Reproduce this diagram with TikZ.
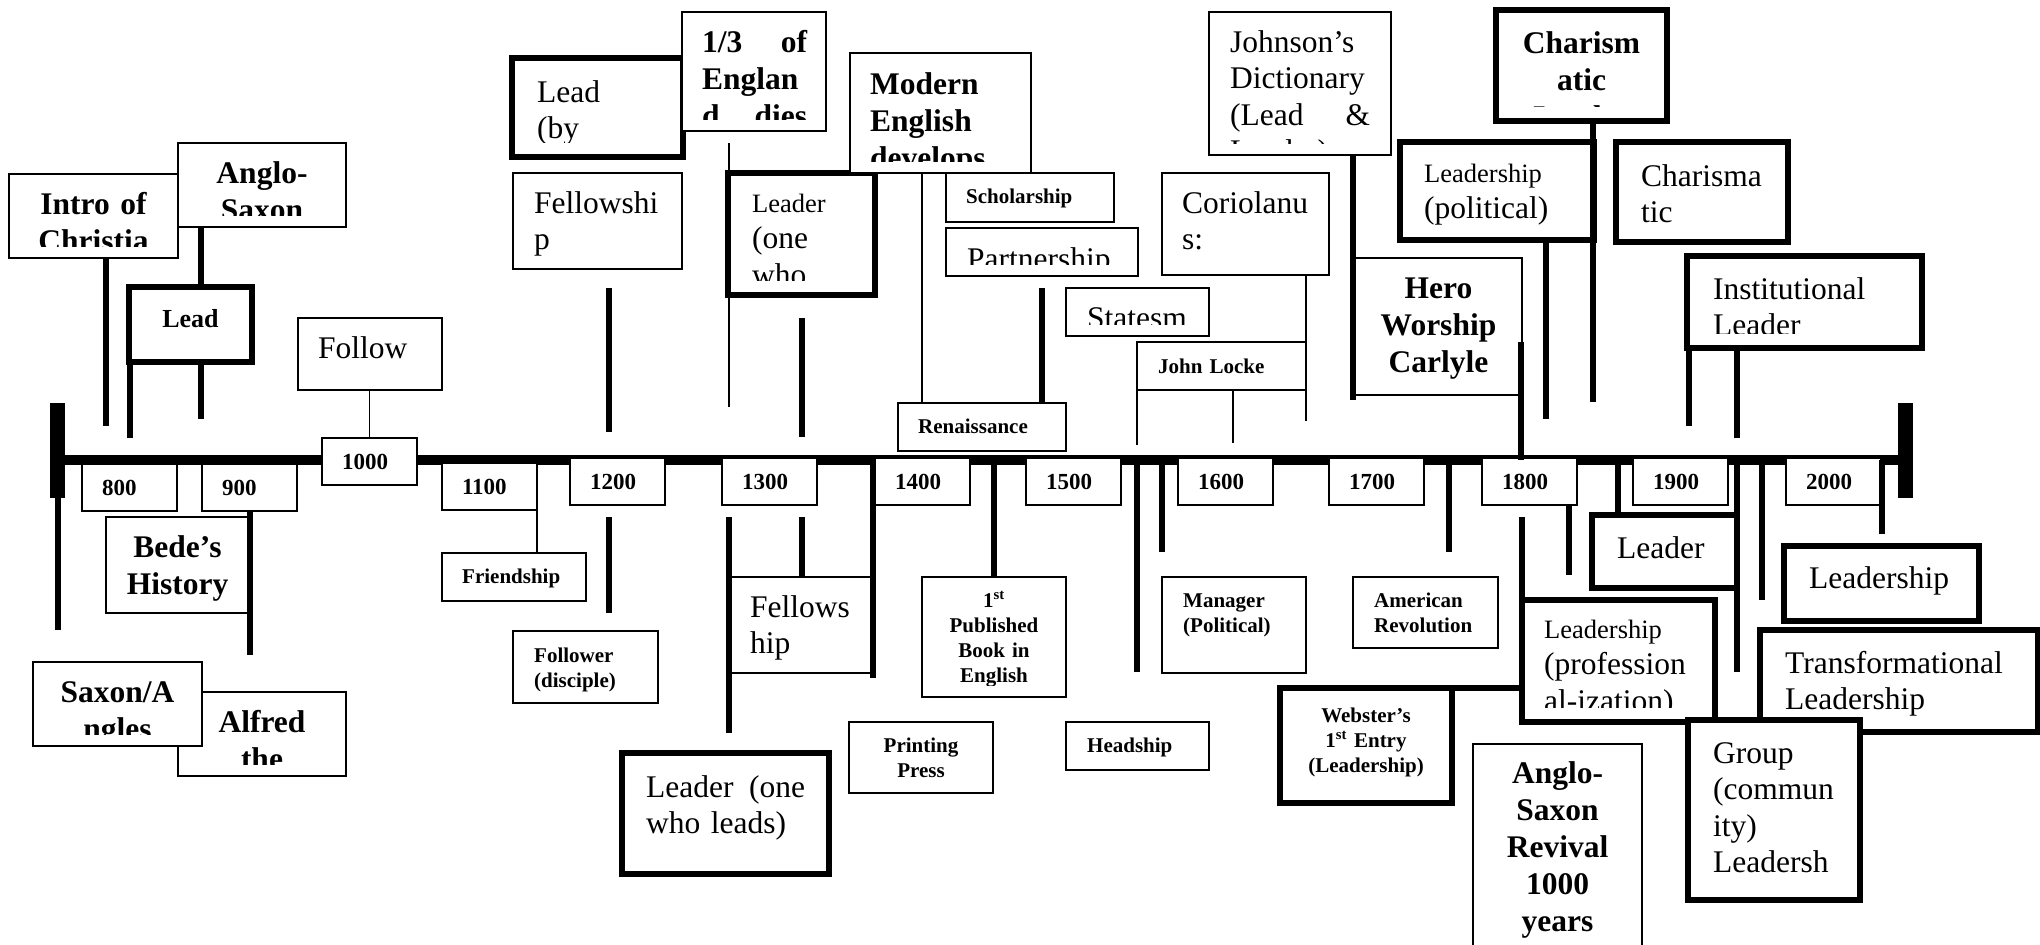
\documentclass[tikz,border=0pt]{standalone}
\usepackage{fontspec}
\setmainfont{Liberation Serif}
\usepackage{tikz}

\tikzset{
  thinbox/.style={draw, fill=white, line width=1.8pt, anchor=north west, inner sep=0pt, outer sep=0pt},
  thickbox/.style={thinbox, line width=5.5pt},
  yearbox/.style={thinbox, inner xsep=20pt, text width=55pt, minimum height=47pt, align=left, font=\fontsize{23}{26}\selectfont\bfseries},
  big/.style={font=\fontsize{31.5}{36.5}\selectfont},
  bigb/.style={font=\fontsize{31.5}{37}\selectfont\bfseries},
  smb/.style={font=\fontsize{21}{25}\selectfont\bfseries},
  lft/.style={anchor=base west, align=left, inner sep=0pt},
  ctr/.style={anchor=base, align=center, inner sep=0pt},
  conn/.style={line width=5.5pt},
  thinconn/.style={line width=1.8pt},
  mainline/.style={line width=10pt},
  endbar/.style={line width=15pt}
}

\def\thickname{thickbox}
\newcommand{\tbox}[7][thinbox]{%
  \node[#1, minimum width=#4pt, minimum height=#5pt] (#2) at (#3) {};
  \def\boxkind{#1}%
  \ifx\boxkind\thickname\def\cliplift{14.5pt}\else\def\cliplift{12pt}\fi
  \begin{scope}
    \clip (#2.north west) rectangle ([yshift=\cliplift]#2.south east);
    \node[#6] {#7};
  \end{scope}}

\begin{document}
\begin{tikzpicture}[x=1pt,y=-1pt]
  \useasboundingbox (0,0) rectangle (2040,945);

  \coordinate (m1) at (57,460);
  \coordinate (m2) at (1905,460);
  \draw[mainline] (m1) -- (m2);
  \draw[endbar] ([yshift=57pt]m1) -- ([yshift=-38pt]m1);
  \draw[endbar] ([yshift=57pt]m2) -- ([yshift=-38pt]m2);

  \foreach \yr/\x/\y in {800/82/464, 900/202/464, 1000/322/438, 1100/442/463,
      1200/570/458, 1300/722/458, 1400/875/458, 1500/1026/458, 1600/1178/458,
      1700/1329/458, 1800/1482/458, 1900/1633/458, 2000/1786/458}
    \node[yearbox] (y\yr) at (\x,\y) {\yr};

  \tbox{intro}{9,174}{169}{84}{bigb, ctr, text width=160pt, at={(93.5,214)}}{Intro of\\Christia}
  \tbox{anglo}{178,143}{168}{84}{bigb, ctr, text width=160pt, at={(262,183)}}{Anglo-\\Saxon}
  \tbox[thickbox]{lead1}{129,287}{123}{75}{font=\fontsize{26}{30}\selectfont\bfseries, ctr, text width=110pt, at={(190.5,327)}}{Lead}
  \tbox{follow}{298,318}{144}{72}{big, lft, text width=110pt, at={(318,358)}}{Follow}
  \tbox{bede}{106,517}{143}{96}{bigb, ctr, text width=135pt, at={(177.5,557)}}{Bede’s\\History}
  \tbox{alfred}{178,692}{168}{84}{bigb, ctr, text width=160pt, at={(262,732)}}{Alfred\\the}
  \tbox{saxon}{33,662}{169}{84}{bigb, ctr, text width=160pt, at={(117.5,702)}}{Saxon/A\\ngles}

  \tbox[thickbox]{leadby}{512,58}{171}{99}{big, lft, text width=120pt, at={(537,102)}}{Lead\\(by}
  \tbox{third}{682,12}{144}{119}{bigb, lft, text width=105pt, at={(702,52)}}{1/3\hfill of\\Englan\\d\hfill dies}
  \tbox{fellow1}{513,173}{169}{96}{big, lft, text width=130pt, at={(534,213)}}{Fellowshi\\p}
  \tbox[thickbox]{leader1}{728,173}{147}{122}{big, lft, text width=105pt, at={(752,212)}}{{\fontsize{26.5}{30}\selectfont Leader}\\(one\\who}
  \tbox{modern}{850,53}{181}{120}{bigb, lft, text width=150pt, at={(870,94)}}{Modern\\English\\develops}
  \tbox{scholar}{946,173}{168}{49}{smb, lft, text width=130pt, at={(966,203)}}{Scholarship}
  \tbox{partner}{946,228}{192}{48}{big, lft, text width=160pt, at={(967,269)}}{Partnership}
  \tbox{statesm}{1066,288}{143}{48}{big, lft, text width=120pt, at={(1087,328)}}{Statesm}
  \tbox{corio}{1162,173}{167}{102}{big, lft, text width=130pt, at={(1182,213)}}{Coriolanu\\s:}
  \tbox{locke}{1137,342}{169}{48}{smb, lft, text width=140pt, at={(1158,373)}}{John Locke}
  \tbox{renaiss}{898,403}{168}{48}{smb, lft, text width=140pt, at={(918,433)}}{Renaissance}
  \tbox{johnson}{1209,12}{182}{143}{big, lft, text width=140pt, at={(1230,52)}}{Johnson’s\\Dictionary\\(Lead\hfill\&\\Leader)}
  \tbox{hero}{1355,258}{167}{137}{bigb, ctr, text width=160pt, at={(1438.5,298)}}{Hero\\Worship\\Carlyle}
  \tbox[thickbox]{charism}{1496,10}{171}{111}{bigb, ctr, text width=160pt, at={(1581.5,53)}}{Charism\\atic\\Leader}
  \tbox[thickbox]{leadpol}{1400,142}{194}{98}{big, lft, text width=160pt, at={(1424,182)}}{{\fontsize{26.5}{30}\selectfont Leadership}\\(political)}
  \tbox[thickbox]{charisma}{1616,142}{172}{100}{big, lft, text width=130pt, at={(1641,186)}}{Charisma\\tic}
  \tbox[thickbox]{instit}{1687,256}{235}{92}{big, lft, text width=190pt, at={(1713,299)}}{Institutional\\Leader}

  \tbox{friend}{442,553}{144}{48}{smb, lft, text width=110pt, at={(462,583)}}{Friendship}
  \tbox{follower}{513,631}{145}{72}{smb, lft, text width=110pt, at={(534,662)}}{Follower\\(disciple)}
  \tbox{fellow2}{730,577}{141}{96}{big, lft, text width=110pt, at={(750,617)}}{Fellows\\hip}
  \tbox[thickbox]{leader2}{622,753}{207}{121}{big, lft, text width=159pt, at={(646,797)}}{Leader\hfill(one\\who leads)}
  \tbox{firstpub}{922,577}{144}{120}{smb, ctr, text width=130pt, at={(994,607)}}{1\textsuperscript{st}\\Published\\Book in\\English}
  \tbox{manager}{1162,577}{144}{96}{smb, lft, text width=120pt, at={(1183,607)}}{Manager\\(Political)}
  \tbox{printing}{849,722}{144}{71}{smb, ctr, text width=130pt, at={(921,752)}}{Printing\\Press}
  \tbox{headship}{1066,722}{143}{48}{smb, lft, text width=120pt, at={(1087,752)}}{Headship}
  \tbox{amrev}{1353,577}{145}{71}{smb, lft, text width=120pt, at={(1374,607)}}{American\\Revolution}
  \tbox[thickbox]{webster}{1280,688}{172}{115}{smb, ctr, text width=150pt, at={(1366,722)}}{Webster’s\\1\textsuperscript{st} Entry\\(Leadership)}
  \tbox[thickbox]{leadprof}{1522,600}{193}{122}{big, lft, text width=165pt, at={(1544,638)}}{{\fontsize{26.5}{30}\selectfont Leadership}\\(profession\\al-ization)}
  \tbox{revival}{1473,744}{169}{230}{bigb, ctr, text width=160pt, at={(1557.5,783)}}{Anglo-\\Saxon\\Revival\\1000\\years}
  \tbox[thickbox]{leader3}{1592,515}{145}{73}{big, lft, text width=110pt, at={(1617,558)}}{Leader}
  \tbox[thickbox]{leadship}{1784,546}{195}{75}{big, lft, text width=160pt, at={(1809,588)}}{Leadership}
  \tbox[thickbox]{transf}{1760,630}{278}{102}{big, lft, text width=240pt, at={(1785,673)}}{Transformational\\Leadership}
  \tbox[thickbox]{group}{1688,720}{172}{180}{big, lft, text width=140pt, at={(1713,763)}}{Group\\(commun\\ity)\\Leadersh}

  \coordinate (a1) at (106,426);
  \coordinate (a2) at (201,419);
  \coordinate (a3) at (130,438);
  \coordinate (a4) at (609,288);
  \coordinate (a5) at (609,432);
  \coordinate (a6) at (729,143);
  \coordinate (a7) at (729,407);
  \coordinate (a8) at (802,318);
  \coordinate (a9) at (802,437);
  \coordinate (a10) at (922,403);
  \coordinate (a11) at (1042,288);
  \coordinate (a12) at (1306,421);
  \coordinate (a13) at (1137,445);
  \coordinate (a14) at (1233,443);
  \coordinate (a15) at (1353,400);
  \coordinate (a16) at (1521,342);
  \coordinate (a17) at (1593,402);
  \coordinate (a18) at (1546,419);
  \coordinate (a19) at (1689,426);
  \coordinate (a20) at (1737,438);

  \draw[conn] (a1 |- intro.south) -- (a1);
  \draw[conn] (a2 |- anglo.south) -- (a2 |- lead1.north);
  \draw[conn] (a2 |- lead1.south) -- (a2);
  \draw[conn] (a3 |- lead1.south) -- (a3);
  \draw[thinconn] (y1000.north) -- (y1000.north |- follow.south);
  \draw[conn] (a4) -- (a5);
  \draw[thinconn] (a6) -- (a7);
  \draw[conn] (a8) -- (a9);
  \draw[thinconn] (a10 |- modern.south) -- (a10 |- renaiss.north);
  \draw[conn] (a11) -- (a11 |- renaiss.north);
  \draw[thinconn] (a12 |- corio.south) -- (a12);
  \draw[thinconn] (a13 |- locke.south) -- (a13);
  \draw[thinconn] (a14 |- locke.south) -- (a14);
  \draw[conn] (a15 |- johnson.south) -- (a15);
  \draw[conn] (a16) -- (a16 |- m1);
  \draw[conn] (a17 |- charism.south) -- (a17);
  \draw[conn] (a18 |- leadpol.south) -- (a18);
  \draw[conn] (a19 |- instit.south) -- (a19);
  \draw[conn] (a20 |- instit.south) -- (a20);

  \coordinate (b1) at (58,630);
  \coordinate (b2) at (250,655);
  \coordinate (b4) at (609,517);
  \coordinate (b5) at (609,613);
  \coordinate (b6) at (729,517);
  \coordinate (b7) at (729,733);
  \coordinate (b8) at (802,517);
  \coordinate (b9) at (873,678);
  \coordinate (b10) at (1137,672);
  \coordinate (b11) at (1162,552);
  \coordinate (b12) at (1449,552);
  \coordinate (b13) at (1522,517);
  \coordinate (b14) at (1569,575);
  \coordinate (b15) at (1618,515);
  \coordinate (b16) at (1737,672);
  \coordinate (b17) at (1762,600);
  \coordinate (b18) at (1882,534);

  \draw[conn] (b1 |- m1) -- (b1);
  \draw[conn] (b2 |- y900.south) -- (b2);
  \draw[thinconn] (y1100.south east) -- (y1100.south east |- friend.north);
  \draw[conn] (b4) -- (b5);
  \draw[conn] (b6) -- (b7);
  \draw[conn] (b8) -- (b8 |- fellow2.north);
  \draw[conn] (b9 |- m1) -- (b9);
  \draw[conn] (firstpub.north |- m1) -- (firstpub.north);
  \draw[conn] (b10 |- m1) -- (b10);
  \draw[conn] (b11 |- m1) -- (b11);
  \draw[conn] (b12 |- m1) -- (b12);
  \draw[conn] (b13) -- (leadprof.north west);
  \draw[conn] (webster.north east) -- (webster.north east -| leadprof.west);
  \draw[conn] (b14 |- y1800.south) -- (b14);
  \draw[conn] (b15 |- m1) -- (b15);
  \draw[conn] (b16 |- m1) -- (b16);
  \draw[conn] (b17 |- m1) -- (b17);
  \draw[conn] (b18 |- m1) -- (b18);
\end{tikzpicture}
\end{document}
